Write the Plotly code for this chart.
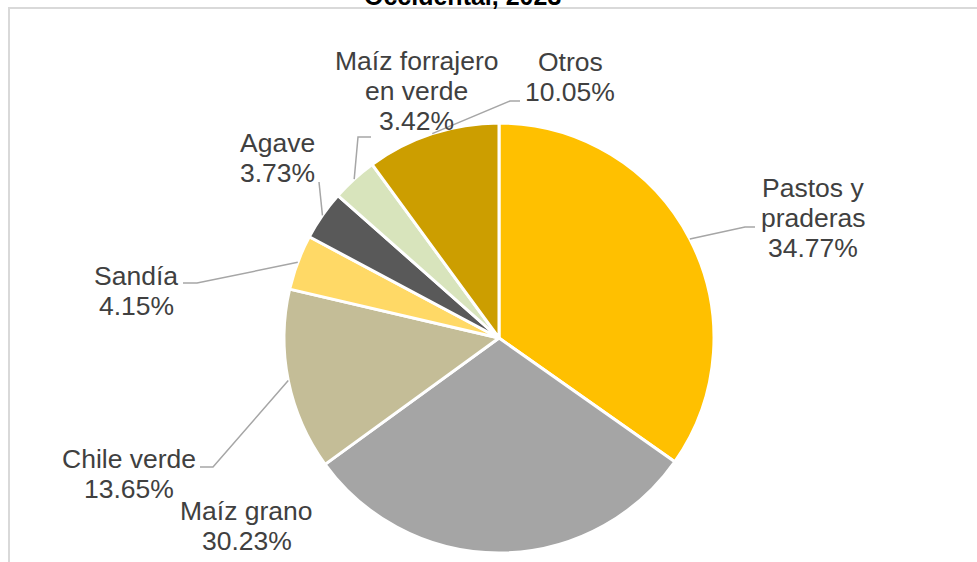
import math
import plotly.graph_objects as go

# ---------------- data ----------------
categories = ["Pastos y praderas", "Maíz grano", "Chile verde", "Sandía",
              "Agave", "Maíz forrajero en verde", "Otros"]
values = [34.77, 30.23, 13.65, 4.15, 3.73, 3.42, 10.05]
label_lines = [["Pastos y", "praderas"], ["Maíz grano"], ["Chile verde"], ["Sandía"],
               ["Agave"], ["Maíz forrajero", "en verde"], ["Otros"]]
colors = ["#FFC000", "#A5A5A5", "#C4BD97", "#FFD966", "#595959", "#D8E4BC", "#CC9E00"]
title_text = "Occidental, 2023"

# ---------------- layout constants (screen pixels) ----------------
W, H = 977, 562
CX, CY, R = 499, 338, 215

def px(x):
    return x / W

def py(y):
    return 1 - y / H

# label block placement: (center x, first line y)
label_pos = [(813, 188), (247, 511), (129, 459), (136, 276), (277, 143), (416, 61), (570, 62)]
# leader elbows: list of points after the anchor on the slice edge (None = no line)
elbows = [[(745, 227), (755, 227)],
          None,
          [(213, 467), (200, 467)],
          [(197, 283), (183, 283)],
          [(319, 182)],
          [(358, 137), (371, 137)],
          [(510, 101), (520, 101)]]
LINE_H = 30
FONT = "Liberation Sans, Arial"

fig = go.Figure(go.Pie(
    labels=categories,
    values=values,
    sort=False,
    direction="clockwise",
    rotation=0,
    marker=dict(colors=colors, line=dict(color="white", width=3)),
    textinfo="none",
    hoverinfo="label+percent",
    domain=dict(x=[px(CX - R), px(CX + R)], y=[py(CY + R), py(CY - R)]),
    showlegend=False,
))

shapes = []
annotations = []
total = sum(values)
cum = 0.0
for i, v in enumerate(values):
    mid = (cum + v / 2) / total * 2 * math.pi
    cum += v
    ax = CX + R * math.sin(mid)
    ay = CY - R * math.cos(mid)
    if elbows[i]:
        pts = [(ax, ay)] + elbows[i]
        path = "M " + " L ".join(f"{px(x):.5f},{py(y):.5f}" for x, y in pts)
        shapes.append(dict(type="path", xref="paper", yref="paper", path=path,
                           line=dict(color="#A6A6A6", width=1.5)))
    lines = label_lines[i] + [f"{v:.2f}%"]
    lx, ly = label_pos[i]
    for j, t in enumerate(lines):
        annotations.append(dict(
            x=px(lx), y=py(ly + j * LINE_H), xref="paper", yref="paper",
            text=t, showarrow=False, xanchor="center", yanchor="middle",
            font=dict(family=FONT, size=26.5, color="#404040")))

# chart-area border (partially visible)
shapes.append(dict(type="rect", xref="paper", yref="paper",
                   x0=px(9), y0=py(600), x1=px(1000), y1=py(8),
                   line=dict(color="#D9D9D9", width=2), fillcolor="rgba(0,0,0,0)"))

# cropped title (only lower part visible)
annotations.append(dict(
    x=px(462), y=py(-4.5), xref="paper", yref="paper", text=f"<b>{title_text}</b>",
    showarrow=False, xanchor="center", yanchor="middle",
    font=dict(family=FONT, size=25, color="#000000")))

fig.update_layout(
    width=W, height=H,
    margin=dict(l=0, r=0, t=0, b=0),
    paper_bgcolor="white",
    plot_bgcolor="white",
    shapes=shapes,
    annotations=annotations,
)

fig.write_html("out.html", config={"displayModeBar": False},
               post_script="document.body.style.margin='0';")
